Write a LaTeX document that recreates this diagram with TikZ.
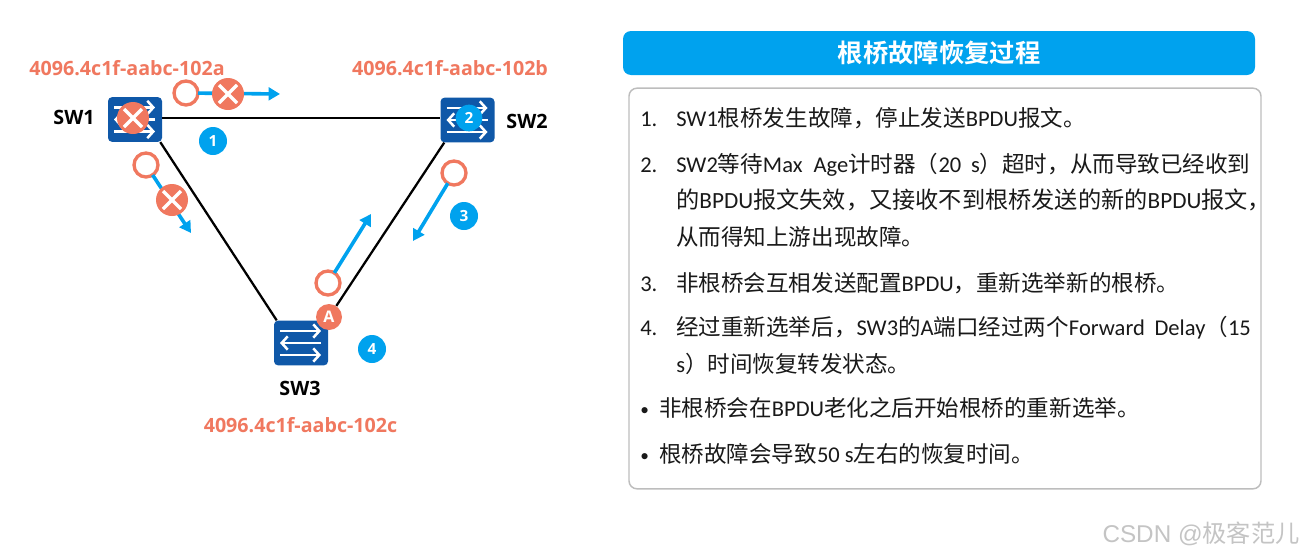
\documentclass[tikz,border=0pt]{standalone}
\usepackage{fontspec}
\usetikzlibrary{arrows.meta,calc}
\setmainfont{Carlito}
\newfontfamily\cjkfam{Noto Sans CJK SC}
\newfontfamily\cjkbold{Noto Sans CJK SC Bold}
\newfontfamily\labfont{Open Sans}[BoldFont={Open Sans Bold}]
\newfontfamily\wmfont{Liberation Sans}
\newcommand{\cn}[1]{{\cjkfam #1}}
\definecolor{skyb}{HTML}{00A2EE}
\definecolor{coral}{HTML}{F0785F}
\definecolor{swblue}{HTML}{0F58A8}
\definecolor{boxgray}{HTML}{BDBDBD}
\definecolor{wmgray}{HTML}{C4C4C4}
\tikzset{
  swarrow/.style={white,line width=1.9pt,-{Straight Barb[length=4.5pt,width=10pt]}},
  switchbox/.style={rectangle,rounded corners=3pt,fill=swblue,minimum width=40.5pt,minimum height=33.5pt,inner sep=0pt,
    path picture={
      \draw[swarrow] ([shift={(-21,-12)}]path picture bounding box.center) -- ([shift={(20,-12)}]path picture bounding box.center);
      \draw[swarrow] ([shift={(20,0)}]path picture bounding box.center) -- ([shift={(-21,0)}]path picture bounding box.center);
      \draw[swarrow] ([shift={(-21,12)}]path picture bounding box.center) -- ([shift={(20,12)}]path picture bounding box.center);
    }},
  ring/.style={circle,draw=coral,fill=white,line width=2.5pt,minimum size=18pt,inner sep=0pt,outer sep=0pt},
  xmark/.style={circle,fill=coral,minimum size=24pt,inner sep=0pt,outer sep=0pt,
    path picture={
      \draw[white,line width=2.6pt] ([shift={(-9,-9)}]path picture bounding box.center) -- ([shift={(9,9)}]path picture bounding box.center);
      \draw[white,line width=2.6pt] ([shift={(-9,9)}]path picture bounding box.center) -- ([shift={(9,-9)}]path picture bounding box.center);
    }},
  badge/.style={circle,fill=skyb,text=white,minimum size=21pt,inner sep=0pt,font=\labfont\bfseries\fontsize{11.5pt}{12pt}\selectfont},
  portbadge/.style={circle,fill=coral,text=white,minimum size=19.5pt,inner sep=0pt,font=\labfont\bfseries\fontsize{12pt}{12pt}\selectfont},
  msg/.style={-{Triangle[length=8.5pt,width=9.5pt]},skyb,line width=2.7pt},
  link/.style={black,line width=1.7pt},
  maclabel/.style={text=coral,font=\labfont\bfseries\fontsize{14.75pt}{16pt}\selectfont,inner sep=0pt},
  swlabel/.style={text=black,font=\labfont\bfseries\fontsize{14.8pt}{16pt}\selectfont,inner sep=0pt},
  bodyline/.style={anchor=base west,inner sep=0pt,text=black!90,font=\fontsize{16.9pt}{20pt}\selectfont},
  dotline/.style={anchor=base west,inner sep=0pt,text=black!90,font=\fontsize{13pt}{20pt}\selectfont},
}
\begin{document}
\begin{tikzpicture}[x=0.75pt,y=-0.75pt]
\useasboundingbox (0,0) rectangle (1304,557);
% switches
\node[switchbox] (sw1) at (135,119.5) {};
\node[switchbox] (sw2) at (467.5,120) {};
\node[switchbox] (sw3) at (301,343) {};
\node[portbadge] (A) at (329,317) {A};
% links
\draw[link] (sw1.east |- 0,118) -- (sw2.west |- 0,118);
\draw[link] ($(sw1.south east)+(-2,0)$) -- ($(sw3.north west)+(3,0)$);
\draw[link] ($(sw2.south west)+(4,0)$) -- (A);
% device labels
\node[swlabel] (l1) at (74,117) {SW1};
\node[swlabel] (l2) at (527,121) {SW2};
\node[swlabel] (l3) at (300,388) {SW3};
\node[maclabel] (m1) at (127,68) {4096.4c1f-aabc-102a};
\node[maclabel] (m2) at (450,68) {4096.4c1f-aabc-102b};
\node[maclabel] (m3) at (300.5,425) {4096.4c1f-aabc-102c};
% messages
\node[ring] (r1) at (186,93) {};
\coordinate (e1) at (280,94);
\draw[msg] (r1) -- (e1);
\node[xmark] (x1) at (228,94) {};
\node[ring] (r2) at (146,165) {};
\coordinate (e2) at (191,233);
\draw[msg] (r2) -- (e2);
\node[xmark] (x2) at (172,200) {};
\node[xmark] (x3) at (133,118) {};
\node[ring] (r3) at (454,173) {};
\coordinate (e3) at (413,241);
\draw[msg] (r3) -- (e3);
\node[ring] (r4) at (328,283) {};
\coordinate (e4) at (371,214);
\draw[msg] (r4) -- (e4);
% step badges
\node[badge] (b1) at (213,141) {1};
\node[badge,minimum size=20pt] (b2) at (469,118) {2};
\node[badge] (b3) at (464,216) {3};
\node[badge] (b4) at (372,349) {4};
% panel
\node[rectangle,rounded corners=6pt,fill=skyb,minimum width=474pt,minimum height=33pt,inner sep=0pt] (title) at (939,53) {};
\node[text=white,inner sep=0pt,font=\cjkbold\fontsize{19pt}{22pt}\selectfont] (ttxt) at (title.center) {根桥故障恢复过程};
\node[rectangle,rounded corners=6pt,draw=boxgray,fill=white,line width=1.1pt,minimum width=474pt,minimum height=300.5pt,inner sep=0pt] (panel) at (945,288.5) {};
% body
\node[bodyline] (n1) at (640,126) {1.};
\node[bodyline] (t1) at (676,126) {SW1\cn{根桥发生故障，停止发送}BPDU\cn{报文。}};
\node[bodyline] (n2) at (640,172) {2.};
\node[bodyline] (t2) at (676,172) {SW2\cn{等待}Max\hspace{4.5pt} Age\cn{计时器（}20\hspace{3.5pt} s\cn{）超时，从而导致已经收到}};
\node[bodyline,font=\fontsize{17.4pt}{20pt}\selectfont] (t2b) at (676,208) {\cn{的}BPDU\cn{报文失效，又接收不到根桥发送的新的}BPDU\cn{报文，}};
\node[bodyline] (t2c) at (676,245) {\cn{从而得知上游出现故障。}};
\node[bodyline] (n3) at (640,291) {3.};
\node[bodyline] (t3) at (676,291) {\cn{非根桥会互相发送配置}BPDU\cn{，重新选举新的根桥。}};
\node[bodyline] (n4) at (640,335) {4.};
\node[bodyline] (t4) at (676,335) {\cn{经过重新选举后，}SW3\cn{的}A\cn{端口经过两个}Forward\hspace{3.5pt} Delay\cn{（}15};
\node[bodyline] (t4b) at (676,372) {s\cn{）时间恢复转发状态。}};
\node[dotline] (d1) at (640,415) {•};
\node[bodyline] (t5) at (659,416) {\cn{非根桥会在}BPDU\cn{老化之后开始根桥的重新选举。}};
\node[dotline] (d2) at (640,461) {•};
\node[bodyline] (t6) at (659,462) {\cn{根桥故障会导致}50 s\cn{左右的恢复时间。}};
% watermark
\node[anchor=base east,inner sep=0pt,text=wmgray,font=\wmfont\fontsize{18.2pt}{20pt}\selectfont] (wm) at (1300,542) {CSDN @\cn{极客范儿}};
\end{tikzpicture}
\end{document}
